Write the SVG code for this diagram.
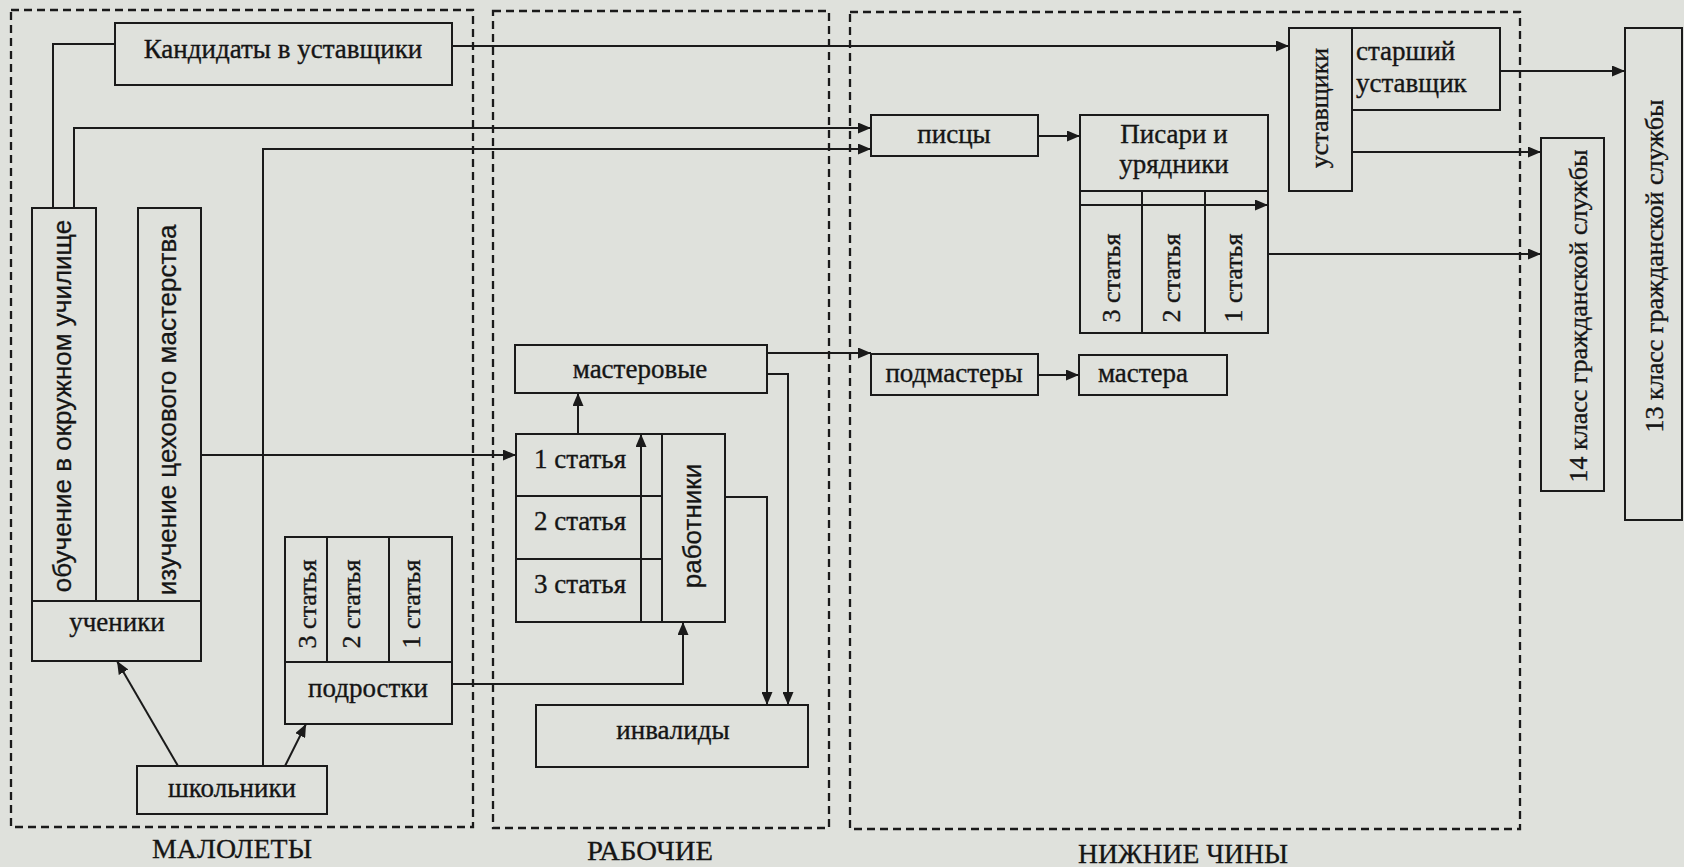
<svg xmlns="http://www.w3.org/2000/svg" width="1684" height="867" viewBox="0 0 1684 867">
<defs>
<style>
.bg{fill:#dfe1dc}
.region{fill:none;stroke:#1a1a1a;stroke-width:2.3;stroke-dasharray:8 5}
.box{fill:none;stroke:#1a1a1a;stroke-width:2}
.ln{fill:none;stroke:#1a1a1a;stroke-width:2}
.arr{fill:none;stroke:#1a1a1a;stroke-width:2;marker-end:url(#ah)}
.t{font-family:"Liberation Serif","Times New Roman",serif;font-size:27px;fill:#151515;stroke:#151515;stroke-width:0.35;text-anchor:middle}
.ts{font-family:"Liberation Sans",Arial,sans-serif;font-size:26px;fill:#151515;stroke:#151515;stroke-width:0.3;text-anchor:middle}
.tr{font-family:"Liberation Serif","Times New Roman",serif;font-size:26px;fill:#151515;stroke:#151515;stroke-width:0.35;text-anchor:middle}
.lab{font-family:"Liberation Serif","Times New Roman",serif;font-size:28px;fill:#151515;stroke:#151515;stroke-width:0.3;text-anchor:middle}
</style>
<marker id="ah" viewBox="0 0 13 11" refX="13" refY="5.5" markerWidth="13" markerHeight="11" markerUnits="userSpaceOnUse" orient="auto">
<path d="M0,0 L13,5.5 L0,11 z" fill="#1a1a1a"/>
</marker>
</defs>
<rect class="bg" x="0" y="0" width="1684" height="867"/>

<g id="regions">
<rect class="region" x="11" y="10" width="462" height="817"/>
<rect class="region" x="493" y="11" width="336" height="817"/>
<rect class="region" x="850" y="12" width="670" height="817"/>
<text class="lab" x="232" y="858" textLength="160" lengthAdjust="spacingAndGlyphs">МАЛОЛЕТЫ</text>
<text class="lab" x="650" y="860" textLength="126" lengthAdjust="spacingAndGlyphs">РАБОЧИЕ</text>
<text class="lab" x="1183" y="863" font-size="30" textLength="210" lengthAdjust="spacingAndGlyphs">НИЖНИЕ ЧИНЫ</text>
</g>

<g id="connectors">
<path class="ln" d="M53,208 V44 H115"/>
<path class="arr" d="M452,46 H1289"/>
<path class="arr" d="M74,208 V128 H871"/>
<path class="arr" d="M263,766 V149 H871"/>
<path class="arr" d="M201,455 H516"/>
<path class="arr" d="M178,766 L117,661"/>
<path class="arr" d="M285,766 L306,724"/>
<path class="arr" d="M452,684 H683 V622"/>
<path class="arr" d="M578,434 V393"/>
<path class="arr" d="M641,622 V434"/>
<path class="arr" d="M725,497 H767 V705"/>
<path class="arr" d="M767,374 H788 V705"/>
<path class="arr" d="M767,353 H871"/>
<path class="arr" d="M1038,375 H1079"/>
<path class="arr" d="M1038,136 H1080"/>
<path class="arr" d="M1080,205 H1268"/>
<path class="arr" d="M1268,254 H1541"/>
<path class="arr" d="M1352,152 H1541"/>
<path class="arr" d="M1500,71 H1625"/>
</g>

<g id="kandidaty">
<rect class="box" x="115" y="23" width="337" height="62"/>
<text class="t" x="283" y="58">Кандидаты в уставщики</text>
</g>

<g id="uchilishche">
<rect class="box" x="32" y="208" width="64" height="393"/>
<text class="ts" transform="translate(71,406) rotate(-90)">обучение в окружном училище</text>
</g>

<g id="tsekh">
<rect class="box" x="138" y="208" width="63" height="393"/>
<text class="ts" transform="translate(176,410) rotate(-90)">изучение цехового мастерства</text>
</g>

<g id="ucheniki">
<rect class="box" x="32" y="601" width="169" height="60"/>
<text class="t" x="117" y="631">ученики</text>
</g>

<g id="podrostki">
<rect class="box" x="285" y="537" width="167" height="125"/>
<line class="ln" x1="327" y1="537" x2="327" y2="662"/>
<line class="ln" x1="389" y1="537" x2="389" y2="662"/>
<text class="tr" transform="translate(316,604) rotate(-90)">3 статья</text>
<text class="tr" transform="translate(360,604) rotate(-90)">2 статья</text>
<text class="tr" transform="translate(420,604) rotate(-90)">1 статья</text>
<rect class="box" x="285" y="662" width="167" height="62"/>
<text class="t" x="368" y="697">подростки</text>
</g>

<g id="shkolniki">
<rect class="box" x="137" y="766" width="190" height="48"/>
<text class="t" x="232" y="797">школьники</text>
</g>

<g id="masterovye">
<rect class="box" x="515" y="345" width="252" height="48"/>
<text class="t" x="640" y="378">мастеровые</text>
</g>

<g id="stati">
<rect class="box" x="516" y="434" width="146" height="188"/>
<line class="ln" x1="516" y1="496" x2="662" y2="496"/>
<line class="ln" x1="516" y1="559" x2="662" y2="559"/>
<text class="t" x="580" y="468">1 статья</text>
<text class="t" x="580" y="530">2 статья</text>
<text class="t" x="580" y="593">3 статья</text>
</g>

<g id="rabotniki">
<rect class="box" x="662" y="434" width="63" height="188"/>
<text class="ts" transform="translate(701,526) rotate(-90)">работники</text>
</g>

<g id="invalidy">
<rect class="box" x="536" y="705" width="272" height="62"/>
<text class="t" x="673" y="739">инвалиды</text>
</g>

<g id="pistsy">
<rect class="box" x="871" y="115" width="167" height="41"/>
<text class="t" x="954" y="143">писцы</text>
</g>

<g id="podmastery">
<rect class="box" x="871" y="354" width="167" height="41"/>
<text class="t" x="954" y="382">подмастеры</text>
</g>

<g id="mastera">
<rect class="box" x="1079" y="355" width="148" height="40"/>
<text class="t" x="1143" y="382">мастера</text>
</g>

<g id="pisari">
<rect class="box" x="1080" y="115" width="188" height="218"/>
<line class="ln" x1="1080" y1="191" x2="1268" y2="191"/>
<line class="ln" x1="1142" y1="191" x2="1142" y2="333"/>
<line class="ln" x1="1205" y1="191" x2="1205" y2="333"/>
<text class="t" x="1174" y="143">Писари и</text>
<text class="t" x="1174" y="173">урядники</text>
<text class="tr" transform="translate(1120,278) rotate(-90)">3 статья</text>
<text class="tr" transform="translate(1180,278) rotate(-90)">2 статья</text>
<text class="tr" transform="translate(1242,278) rotate(-90)">1 статья</text>
</g>

<g id="ustavshchiki">
<rect class="box" x="1289" y="28" width="63" height="163"/>
<text class="tr" transform="translate(1328,108) rotate(-90)">уставщики</text>
</g>

<g id="starshiy">
<rect class="box" x="1352" y="28" width="148" height="82"/>
<text class="t" x="1356" y="60" style="text-anchor:start">старший</text>
<text class="t" x="1356" y="92" style="text-anchor:start">уставщик</text>
</g>

<g id="klass14">
<rect class="box" x="1541" y="138" width="63" height="353"/>
<text class="tr" font-size="27" transform="translate(1587,316) rotate(-90)">14 класс гражданской службы</text>
</g>

<g id="klass13">
<rect class="box" x="1625" y="28" width="57" height="492"/>
<text class="tr" font-size="27" transform="translate(1663,266) rotate(-90)">13 класс гражданской службы</text>
</g>
</svg>
